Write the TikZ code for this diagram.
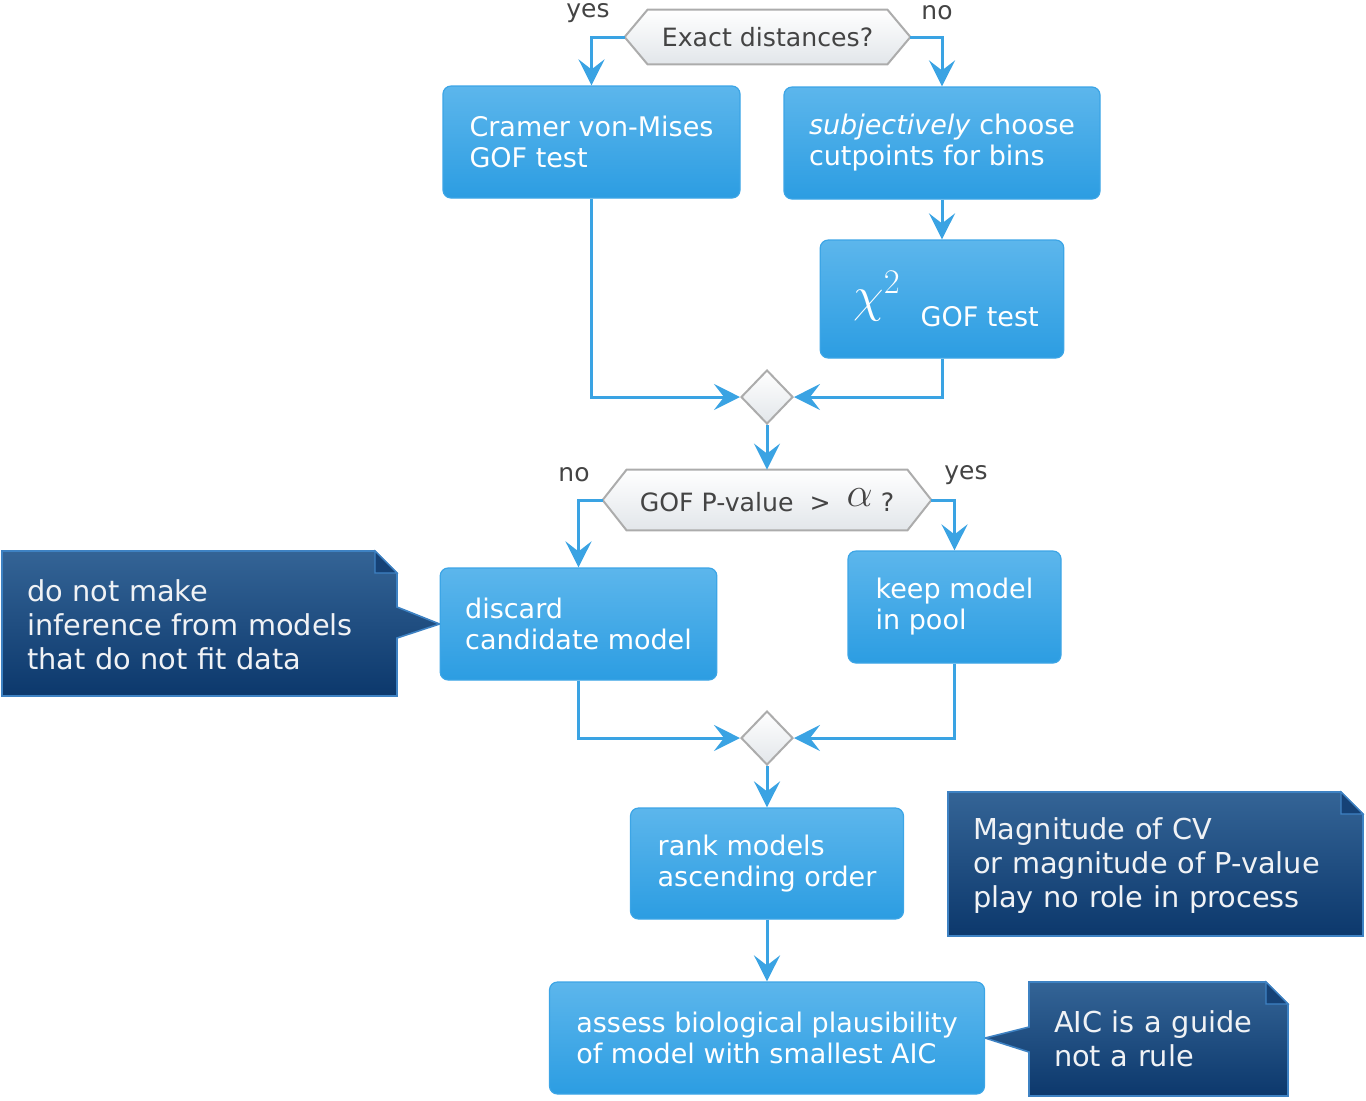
\documentclass[tikz,border=0pt]{standalone}
\usepackage{fontspec}
\setmainfont{DejaVu Sans}
\usetikzlibrary{arrows.meta,shapes.geometric,backgrounds}
\definecolor{lineblue}{RGB}{58,163,227}
\definecolor{boxtop}{RGB}{92,182,236}
\definecolor{boxbot}{RGB}{44,157,226}
\definecolor{boxedge}{RGB}{60,165,230}
\definecolor{notetop}{RGB}{52,100,150}
\definecolor{notebot}{RGB}{12,56,108}
\definecolor{noteedge}{RGB}{62,130,195}
\definecolor{foldcol}{RGB}{22,66,118}
\definecolor{hexedge}{RGB}{172,172,172}
\definecolor{hexbot}{RGB}{226,230,234}
\definecolor{labelgray}{RGB}{68,68,68}
\definecolor{notetext}{RGB}{240,242,245}
\begin{document}
\begin{tikzpicture}[x=0.5pt,y=-0.5pt,
  flowbox/.style={rectangle, rounded corners=4pt, top color=boxtop, bottom color=boxbot,
    draw=boxedge, line width=0.6pt, text=white, font=\fontsize{13.5}{15.5}\selectfont,
    align=left, inner xsep=12.5pt, inner ysep=0pt},
  notebox/.style={rectangle, text=notetext, font=\fontsize{14.4}{17}\selectfont,
    align=left, inner xsep=12.5pt, inner ysep=0pt},
  hexnode/.style={rectangle, inner sep=0pt, text=labelgray, font=\fontsize{12.6}{14}\selectfont},
  hexshape/.style={draw=hexedge, line width=1pt, top color=white, bottom color=hexbot},
  noteshape/.style={draw=noteedge, line width=0.8pt, top color=notetop, bottom color=notebot},
  foldshape/.style={fill=foldcol, draw=noteedge, line width=0.6pt},
  merge/.style={diamond, minimum width=26pt, minimum height=27pt, inner sep=0pt,
    draw=hexedge, line width=1pt, top color=white, bottom color=hexbot},
  conn/.style={draw=lineblue, line width=1.5pt, -{Stealth[length=13pt,width=13pt,inset=5pt]}},
  lbl/.style={text=labelgray, font=\fontsize{12.5}{14}\selectfont, inner sep=0pt}]
\useasboundingbox (0,0) rectangle (1366,1100);

% decision 1
\node[hexnode, minimum width=142.5pt, minimum height=27pt] (q1) at (767.5,37) {Exact distances?};
\node[lbl] (yes1) at (588,13) {yes};
\node[lbl] (no1) at (937,13) {no};

% boxes
\node[flowbox, minimum width=148.5pt, minimum height=56pt] (cvm) at (591.5,142) {Cramer von-Mises\\GOF test};
\node[flowbox, minimum width=158pt, minimum height=56pt] (subj) at (942,143) {\textit{subjectively} choose\\cutpoints for bins};
\node[flowbox, minimum width=121.5pt, minimum height=59pt] (chi) at (942,299)
  {\hspace*{4pt}\raisebox{7.5pt}{\fontsize{24}{24}\selectfont$\chi^2$}\hspace{10pt}GOF test};

\node[merge] (m1) at (767,397) {};

% decision 2
\node[hexnode, minimum width=164pt, minimum height=30pt] (q2) at (767,500)
  {GOF P-value \ >\ \ \raisebox{2.5pt}{\fontsize{21}{21}\selectfont$\alpha$}\ ?};
\node[lbl] (no2) at (574,475) {no};
\node[lbl] (yes2) at (966,475) {yes};

\node[flowbox, minimum width=137.5pt, minimum height=56pt] (discard) at (578.5,624) {discard\\candidate model};
\node[flowbox, minimum width=106.5pt, minimum height=56pt] (keep) at (954.5,607) {keep model\\in pool};

\node[merge] (m2) at (767,738) {};

\node[flowbox, minimum width=136.5pt, minimum height=55.5pt] (rank) at (767,863.5) {rank models\\ascending order};
\node[flowbox, minimum width=217.5pt, minimum height=56pt] (assess) at (767,1038) {assess biological plausibility\\of model with smallest AIC};

% notes
\node[notebox, minimum width=197.5pt, minimum height=72.5pt, text width=172.5pt] (note1) at (199.5,624.5)
  {do not make\\inference from models\\that do not fit data};
\node[notebox, minimum width=207.5pt, minimum height=72pt, text width=182.5pt] (note2) at (1155.5,866)
  {Magnitude of CV\\or magnitude of P-value\\play no role in process};
\node[notebox, minimum width=129.5pt, minimum height=57pt, text width=104.5pt] (note3) at (1158.5,1039)
  {AIC is a guide\\not a rule};

\begin{scope}[on background layer]
  \path[hexshape] (q1.west) -- ([xshift=11.5pt]q1.north west) -- ([xshift=-11.5pt]q1.north east)
     -- (q1.east) -- ([xshift=-11.5pt]q1.south east) -- ([xshift=11.5pt]q1.south west) -- cycle;
  \path[hexshape] (q2.west) -- ([xshift=12pt]q2.north west) -- ([xshift=-12pt]q2.north east)
     -- (q2.east) -- ([xshift=-12pt]q2.south east) -- ([xshift=12pt]q2.south west) -- cycle;
  % note 1 with pointer to discard
  \path[noteshape] (2,551) -- (375,551) -- (397,573) -- (397,607) -- (discard.west)
     -- (397,638) -- (397,696) -- (2,696) -- cycle;
  \path[foldshape] (375,551) -- (375,573) -- (397,573) -- cycle;
  % note 2
  \path[noteshape] (948,792) -- (1341,792) -- (1363,814) -- (1363,936) -- (948,936) -- cycle;
  \path[foldshape] (1341,792) -- (1341,814) -- (1363,814) -- cycle;
  % note 3 with pointer to assess
  \path[noteshape] (1029,982) -- (1266,982) -- (1288,1004) -- (1288,1096) -- (1029,1096)
     -- (1029,1052) -- (assess.east) -- (1029,1027) -- cycle;
  \path[foldshape] (1266,982) -- (1266,1004) -- (1288,1004) -- cycle;
\end{scope}

% connectors
\draw[conn] (q1.west) -| (cvm.north);
\draw[conn] (q1.east) -| (subj.north);
\draw[conn] (subj.south) -- (chi.north);
\draw[conn] (cvm.south) |- (m1.west);
\draw[conn] (chi.south) |- (m1.east);
\draw[conn] (m1.south) -- (q2.north);
\draw[conn] (q2.west) -| (discard.north);
\draw[conn] (q2.east) -| (keep.north);
\draw[conn] (discard.south) |- (m2.west);
\draw[conn] (keep.south) |- (m2.east);
\draw[conn] (m2.south) -- (rank.north);
\draw[conn] (rank.south) -- (assess.north);
\end{tikzpicture}
\end{document}
